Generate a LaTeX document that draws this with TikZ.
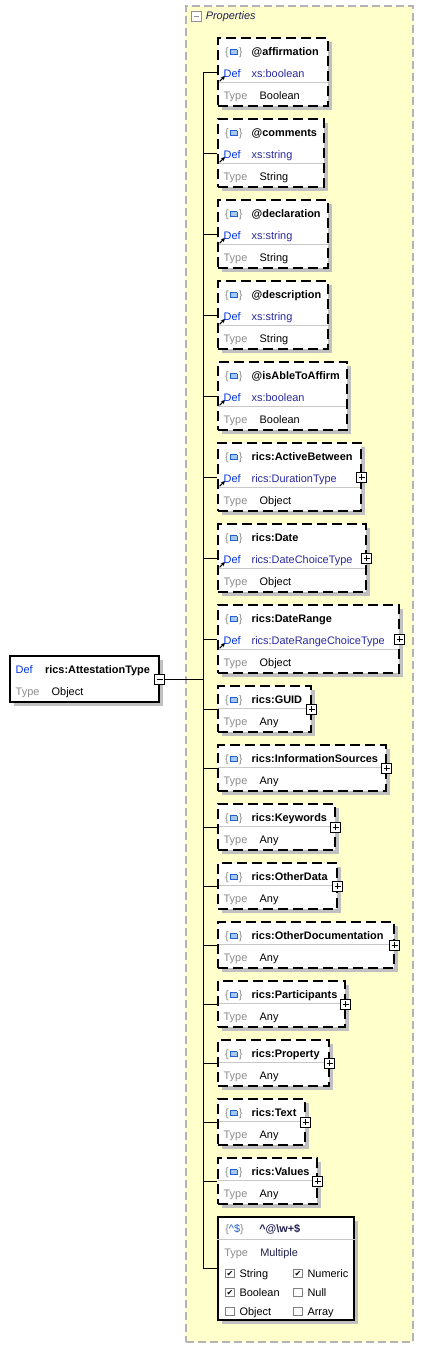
\documentclass[tikz,border=0pt]{standalone}
\usepackage{fontspec}
\setmainfont{Liberation Sans}
\newfontfamily\symfont{DejaVu Sans}
\usepackage{xcolor}
\usetikzlibrary{arrows.meta,positioning,fit,shadows}
\definecolor{panelfill}{HTML}{FFFFCC}
\definecolor{panelline}{HTML}{B4B4B4}
\definecolor{shadowgray}{HTML}{C0C0C0}
\definecolor{sepgray}{HTML}{C8C8C8}
\definecolor{deflabel}{HTML}{0033DD}
\definecolor{defvalue}{HTML}{2A2A9E}
\definecolor{typelabel}{HTML}{8C8C8C}
\definecolor{icongray}{HTML}{909090}
\definecolor{iconblue}{HTML}{2060D0}
\definecolor{iconfill}{HTML}{A8C8F0}
\definecolor{titlenavy}{HTML}{202050}
\definecolor{chkgray}{HTML}{808080}

\newcommand{\rowstrut}{\rule[-3pt]{0pt}{8.9pt}}
\newcommand{\attricon}{{\color{icongray}\{}\hspace{1pt}\raisebox{1.2pt}{\setlength{\fboxsep}{0pt}\setlength{\fboxrule}{0.7pt}\fcolorbox{iconblue}{iconfill}{\rule{0pt}{3pt}\hspace{4.2pt}}}\hspace{1pt}{\color{icongray}\}}}
\newcommand{\attrhead}[1]{\rowstrut\hspace{5.5pt}\makebox[20pt][l]{\attricon}\textbf{#1}}
\newcommand{\defrow}[1]{\rowstrut\hspace{4.5pt}\makebox[21pt][l]{\color{deflabel}Def}{\color{defvalue}#1}}
\newcommand{\typerow}[1]{\rowstrut\hspace{4.5pt}\makebox[27pt][l]{\color{typelabel}Type}#1}
\newcommand{\chkoff}{{\setlength{\fboxsep}{0pt}\setlength{\fboxrule}{0.6pt}\fcolorbox{chkgray}{white}{\rule{0pt}{6pt}\hspace{6pt}}}}
\newcommand{\chkon}{{\setlength{\fboxsep}{0pt}\setlength{\fboxrule}{0.6pt}\fcolorbox{chkgray}{white}{\makebox[6pt][c]{\rule{0pt}{6pt}\raisebox{0.5pt}{\symfont\fontsize{6}{6}\selectfont ✔}}}}}
\newcommand{\checkrow}[4]{\rowstrut\hspace{5.25pt}\makebox[51pt][l]{#1\hspace{3.5pt}#2}#3\hspace{3.5pt}#4}

\begin{document}
\begin{tikzpicture}[
  x=0.75pt, y=-0.75pt,
  every node/.style={font=\fontsize{8.2}{16.5}\selectfont},
  panel/.style={rectangle, draw=panelline, fill=panelfill, line width=0.8pt,
    dash pattern=on 6pt off 3pt, inner sep=0},
  sepline/.style={draw=sepgray, line width=0.75pt, solid},
  defarrow/.style={-{Stealth[length=3pt,width=3pt]}, line width=0.85pt, solid, black},
  attrbox/.style={rectangle, draw=black, line width=0.9pt, dash pattern=on 7.5pt off 3.75pt,
    fill=white, inner sep=0,
    drop shadow={shadow xshift=3pt, shadow yshift=-3pt, fill=shadowgray, opacity=1},
    path picture={\draw[sepline] ([yshift=18pt]path picture bounding box.south west)
      -- ([yshift=18pt]path picture bounding box.south east);}},
  defbox/.style={attrbox,
    path picture={\draw[sepline] ([yshift=18pt]path picture bounding box.south west)
      -- ([yshift=18pt]path picture bounding box.south east);
      \draw[defarrow] ([shift={(1.2pt,-7pt)}]path picture bounding box.west) -- ++(4pt,4pt);}},
  typebox/.style={rectangle, draw=black, line width=0.8pt, fill=white, inner sep=0,
    drop shadow={shadow xshift=3pt, shadow yshift=-3pt, fill=shadowgray, opacity=1}},
  rows/.style={anchor=west, inner sep=0, align=left, yshift=-3pt},
  expander/.style={rectangle, draw=black, fill=white, line width=0.75pt,
    minimum size=7.5pt, inner sep=0},
  minusbox/.style={expander, path picture={\draw[line width=0.6pt]
    ([xshift=1.5pt]path picture bounding box.west) -- ([xshift=-1.5pt]path picture bounding box.east);}},
  plusbox/.style={expander, path picture={\draw[line width=0.6pt]
    ([xshift=1.5pt]path picture bounding box.west) -- ([xshift=-1.5pt]path picture bounding box.east)
    ([yshift=-1.5pt]path picture bounding box.north) -- ([yshift=1.5pt]path picture bounding box.south);}},
  link/.style={draw=black, line width=0.75pt},
]
\useasboundingbox (0,0) rectangle (425,1349);

% Properties panel
\node[panel, fit={(186,6) (413,1342)}] (props) {};
\node[minusbox, draw=icongray, minimum size=6.8pt] (propsexp) at (196.5,16.5) {};
\node[anchor=west, inner sep=0, font=\fontsize{8.2}{10}\selectfont\itshape, text=titlenavy,
  right=3pt of propsexp] (propslabel) {Properties};

% Root type
\node[typebox, fit={(10,656) (159,702)}] (root) {};
\node[rows] (roottext) at (root.west) {\defrow{\color{black}\hspace{1pt}\textbf{rics:AttestationType}}\\\typerow{Object}};
\node[minusbox] (rootexp) at (root.east) {};

% Attributes with a definition
\node[defbox, fit={(218,38) (328,106)}] (affirmation) {};
\node[rows] (affirmationtext) at (affirmation.west) {\attrhead{@affirmation}\\\defrow{xs:boolean}\\\typerow{Boolean}};
\node[defbox, fit={(218,119) (324,187)}] (comments) {};
\node[rows] (commentstext) at (comments.west) {\attrhead{@comments}\\\defrow{xs:string}\\\typerow{String}};
\node[defbox, fit={(218,200) (328,268)}] (declaration) {};
\node[rows] (declarationtext) at (declaration.west) {\attrhead{@declaration}\\\defrow{xs:string}\\\typerow{String}};
\node[defbox, fit={(218,281) (328,349)}] (description) {};
\node[rows] (descriptiontext) at (description.west) {\attrhead{@description}\\\defrow{xs:string}\\\typerow{String}};
\node[defbox, fit={(218,362) (347,430)}] (isable) {};
\node[rows] (isabletext) at (isable.west) {\attrhead{@isAbleToAffirm}\\\defrow{xs:boolean}\\\typerow{Boolean}};
\node[defbox, fit={(218,443) (361,511)}] (activebetween) {};
\node[rows] (activebetweentext) at (activebetween.west) {\attrhead{rics:ActiveBetween}\\\defrow{rics:DurationType}\\\typerow{Object}};
\node[plusbox] (activebetweenexp) at (activebetween.east) {};
\node[defbox, fit={(218,524) (366,592)}] (date) {};
\node[rows] (datetext) at (date.west) {\attrhead{rics:Date}\\\defrow{rics:DateChoiceType}\\\typerow{Object}};
\node[plusbox] (dateexp) at (date.east) {};
\node[defbox, fit={(218,605) (399,673)}] (daterange) {};
\node[rows] (daterangetext) at (daterange.west) {\attrhead{rics:DateRange}\\\defrow{rics:DateRangeChoiceType}\\\typerow{Object}};
\node[plusbox] (daterangeexp) at (daterange.east) {};

% Properties of any type
\node[attrbox, fit={(218,686) (311,732)}] (guid) {};
\node[rows] (guidtext) at (guid.west) {\attrhead{rics:GUID}\\\typerow{Any}};
\node[plusbox] (guidexp) at (guid.east) {};
\node[attrbox, fit={(218,745) (386,791)}] (infosources) {};
\node[rows] (infosourcestext) at (infosources.west) {\attrhead{rics:InformationSources}\\\typerow{Any}};
\node[plusbox] (infosourcesexp) at (infosources.east) {};
\node[attrbox, fit={(218,804) (335,850)}] (keywords) {};
\node[rows] (keywordstext) at (keywords.west) {\attrhead{rics:Keywords}\\\typerow{Any}};
\node[plusbox] (keywordsexp) at (keywords.east) {};
\node[attrbox, fit={(218,863) (337,909)}] (otherdata) {};
\node[rows] (otherdatatext) at (otherdata.west) {\attrhead{rics:OtherData}\\\typerow{Any}};
\node[plusbox] (otherdataexp) at (otherdata.east) {};
\node[attrbox, fit={(218,922) (394,968)}] (otherdoc) {};
\node[rows] (otherdoctext) at (otherdoc.west) {\attrhead{rics:OtherDocumentation}\\\typerow{Any}};
\node[plusbox] (otherdocexp) at (otherdoc.east) {};
\node[attrbox, fit={(218,981) (345,1027)}] (participants) {};
\node[rows] (participantstext) at (participants.west) {\attrhead{rics:Participants}\\\typerow{Any}};
\node[plusbox] (participantsexp) at (participants.east) {};
\node[attrbox, fit={(218,1040) (329,1086)}] (property) {};
\node[rows] (propertytext) at (property.west) {\attrhead{rics:Property}\\\typerow{Any}};
\node[plusbox] (propertyexp) at (property.east) {};
\node[attrbox, fit={(218,1099) (305,1145)}] (text) {};
\node[rows] (texttext) at (text.west) {\attrhead{rics:Text}\\\typerow{Any}};
\node[plusbox] (textexp) at (text.east) {};
\node[attrbox, fit={(218,1158) (317,1204)}] (values) {};
\node[rows] (valuestext) at (values.west) {\attrhead{rics:Values}\\\typerow{Any}};
\node[plusbox] (valuesexp) at (values.east) {};

% Pattern property
\node[typebox, fit={(218,1217) (354,1320)}] (pattern) {};
\node[rows, font=\fontsize{8.2}{17.4}\selectfont] (patternhead) at (218,1238.5)
  {\rowstrut\hspace{5.25pt}\makebox[25.5pt][l]{{\color{icongray}\{}{\color{iconblue}\textasciicircum\$}{\color{icongray}\}}}{\color{titlenavy}\textbf{\textasciicircum @\textbackslash w+\$}}\\\typerow{\color{titlenavy}Multiple}};
\node[rows, font=\fontsize{8.2}{14.25}\selectfont] (patternchecks) at (218,1290)
  {\checkrow{\chkon}{String}{\chkon}{Numeric}\\\checkrow{\chkon}{Boolean}{\chkoff}{Null}\\\checkrow{\chkoff}{Object}{\chkoff}{Array}};
\draw[sepline] (pattern.north west |- 218,1239) -- (pattern.north east |- 218,1239);

% Connectors
\coordinate (trunk) at (203,72);
\draw[link] (trunk) -- (trunk |- pattern.west);
\draw[link] (rootexp.east) -- (rootexp.east -| trunk);
\draw[link] (affirmation.west -| trunk) -- (affirmation.west);
\draw[link] (comments.west -| trunk) -- (comments.west);
\draw[link] (declaration.west -| trunk) -- (declaration.west);
\draw[link] (description.west -| trunk) -- (description.west);
\draw[link] (isable.west -| trunk) -- (isable.west);
\draw[link] (activebetween.west -| trunk) -- (activebetween.west);
\draw[link] (date.west -| trunk) -- (date.west);
\draw[link] (daterange.west -| trunk) -- (daterange.west);
\draw[link] (guid.west -| trunk) -- (guid.west);
\draw[link] (infosources.west -| trunk) -- (infosources.west);
\draw[link] (keywords.west -| trunk) -- (keywords.west);
\draw[link] (otherdata.west -| trunk) -- (otherdata.west);
\draw[link] (otherdoc.west -| trunk) -- (otherdoc.west);
\draw[link] (participants.west -| trunk) -- (participants.west);
\draw[link] (property.west -| trunk) -- (property.west);
\draw[link] (text.west -| trunk) -- (text.west);
\draw[link] (values.west -| trunk) -- (values.west);
\draw[link] (pattern.west -| trunk) -- (pattern.west);
\end{tikzpicture}
\end{document}
